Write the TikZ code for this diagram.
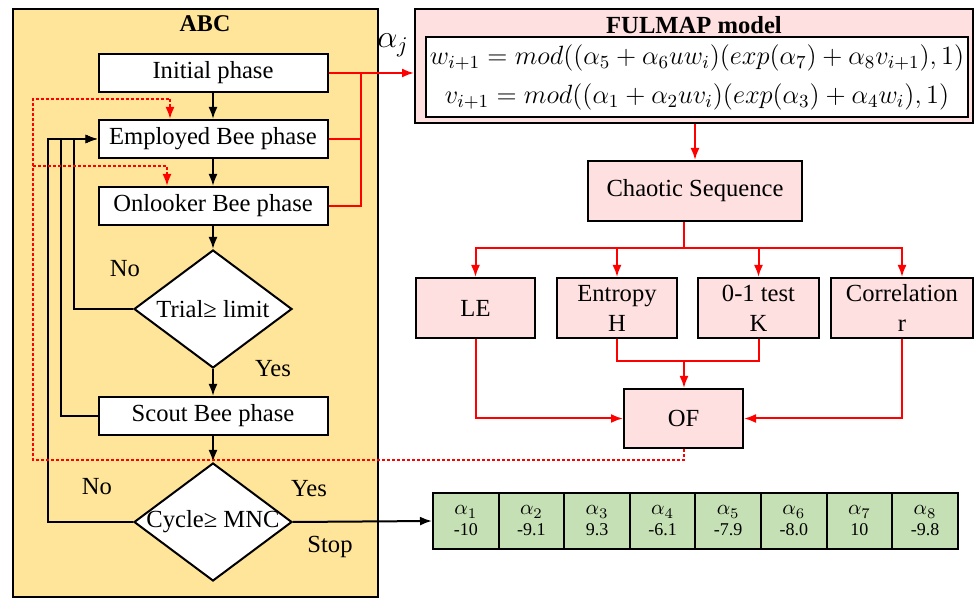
\documentclass[tikz,border=0pt]{standalone}
\usepackage{fix-cm}
\usepackage{fontspec}
\setmainfont{Liberation Serif}
\usetikzlibrary{arrows.meta,positioning,shapes.geometric}

\definecolor{abcyellow}{HTML}{FFE599}
\definecolor{boxpink}{HTML}{FFE0E0}
\definecolor{cellgreen}{HTML}{C5E0B4}

\tikzset{
  phase/.style={draw,fill=white,line width=1pt,minimum width=114.5pt,minimum height=19pt,inner sep=0pt},
  decision/.style={diamond,draw,fill=white,line width=1pt,minimum width=79pt,minimum height=59pt,inner sep=0pt},
  pinkbox/.style={draw,fill=boxpink,line width=1pt,align=center,inner sep=0pt,minimum height=30pt,font=\fontsize{12.3}{15}\selectfont},
  cell/.style={draw,fill=cellgreen,line width=1pt,minimum width=32.8pt,minimum height=28pt,inner sep=0pt,align=center,font=\fontsize{9}{10.5}\selectfont},
  flow/.style={line width=1pt,-{Latex[length=6pt,width=4.5pt]}},
  redflow/.style={flow,red},
  redline/.style={red,line width=1pt},
  feedback/.style={red,line width=1pt,dash pattern=on 1.5pt off 1pt,-{Latex[length=6pt,width=4.5pt]}},
}

\begin{document}
\begin{tikzpicture}[x=0.5pt,y=-0.5pt,every node/.style={font=\fontsize{12.3}{14.5}\selectfont}]
\useasboundingbox (0,0) rectangle (975,598);
% ABC part
\draw[fill=abcyellow,line width=1pt] (12.5,9) rectangle (378,597);
\node[font=\bfseries\fontsize{12}{14}\selectfont] (abc) at (205,24) {ABC};
\node[phase] (init) at (213,73) {Initial phase};
\node[phase] (emp) at (213,139) {Employed Bee phase};
\node[phase] (onl) at (213,206) {Onlooker Bee phase};
\node[decision] (trial) at (213,309) {\makebox[0pt]{Trial≥ limit}};
\node[phase] (scout) at (213,416) {Scout Bee phase};
\node[decision] (cycle) at (213,522) {\makebox[0pt]{Cycle≥ MNC}};
\node (no1) at (125,269) {No};
\node (yes1) at (273,369) {Yes};
\node (no2) at (97,487) {No};
\node (yes2) at (309,489) {Yes};
\node (stop) at (330,547) {Stop};

\draw[flow] (init) -- (emp);
\draw[flow] (emp) -- (onl);
\draw[flow] (onl) -- (trial);
\draw[flow] (trial) -- (scout);
\draw[flow] (scout) -- (cycle);
\draw[flow] (trial.west) -- ++(-59,0) |- (emp.west);
\draw[flow] (scout.west) -- ++(-36.5,0) |- (emp.west);
\draw[flow] (cycle.west) -- ++(-85.5,0) |- (emp.west);

% FULMAP part
\node[draw,fill=boxpink,line width=1pt,minimum width=279pt,minimum height=57pt] (fulmap) at (694,66) {};
\node[font=\bfseries\fontsize{12.3}{14}\selectfont] (fultitle) at (694,25) {FULMAP model};
\node[draw,fill=white,line width=1pt,minimum width=271pt,minimum height=40pt,inner sep=0pt,align=center,
  font=\fontsize{13.2}{19.5}\selectfont] (eqs) at (697,77)
  {$w_{i+1} = mod\big((\alpha_5 + \alpha_6 u w_i)(exp(\alpha_7) + \alpha_8 v_{i+1}), 1\big)$\\
   $v_{i+1} = mod\big((\alpha_1 + \alpha_2 u v_i)(exp(\alpha_3) + \alpha_4 w_i), 1\big)$};
\node[font=\fontsize{16}{18}\selectfont] (alj) at (393,45) {$\alpha_j$};

\draw[redflow] (init.east) -- (init.east -| fulmap.west);
\draw[redline] (emp.east) -- ++(32,0) |- (init.east);
\draw[redline] (onl.east) -- ++(32,0) |- (init.east);

\node[pinkbox,minimum width=107pt] (chaos) at (695,191) {Chaotic Sequence};
\node[pinkbox,minimum width=59.5pt] (le) at (475.5,308) {LE};
\node[pinkbox,minimum width=60pt] (ent) at (617,308) {Entropy\\H};
\node[pinkbox,minimum width=60.5pt] (zot) at (758.5,308) {0-1 test\\K};
\node[pinkbox,minimum width=71pt] (corr) at (902,308) {Correlation\\r};
\node[pinkbox,minimum width=59.5pt,minimum height=29.5pt] (of) at (683.5,418.5) {OF};

\draw[redflow] (chaos.north |- fulmap.south) -- (chaos.north);
\coordinate (split) at (684,248);
\draw[redline] (split |- chaos.south) -- (split);
\draw[redflow] (split) -| (le.north);
\draw[redflow] (split) -| (ent.north);
\draw[redflow] (split) -| (zot.north);
\draw[redflow] (split) -| (corr.north);
\coordinate (merge) at (684,361);
\draw[redline] (ent.south) |- (merge) -| (zot.south);
\draw[redflow] (merge) -- (merge |- of.north);
\draw[redflow] (le.south) |- (of.west);
\draw[redflow] (corr.south) |- (of.east);

% feedback of OF to ABC
\coordinate (fbl) at (33,460);
\coordinate (fbt) at (33,99);
\coordinate (fbm) at (33,166);
\draw[feedback] (of.south) |- (fbl) -- (fbt) -| ([xshift=-21.5pt]emp.north);
\draw[feedback] (fbm) -| ([xshift=-23pt]onl.north);

% best parameters
\foreach \v [count=\k] in {-10,-9.1,9.3,-6.1,-7.9,-8.0,10,-9.8}
  \node[cell] (tab\k) at ({433+65.6*(\k-0.5)},521) {\fontsize{10.5}{10.5}\selectfont$\alpha_{\k}$\\\v};
\draw[flow] (cycle.east) -- (tab1.west);
\end{tikzpicture}
\end{document}
